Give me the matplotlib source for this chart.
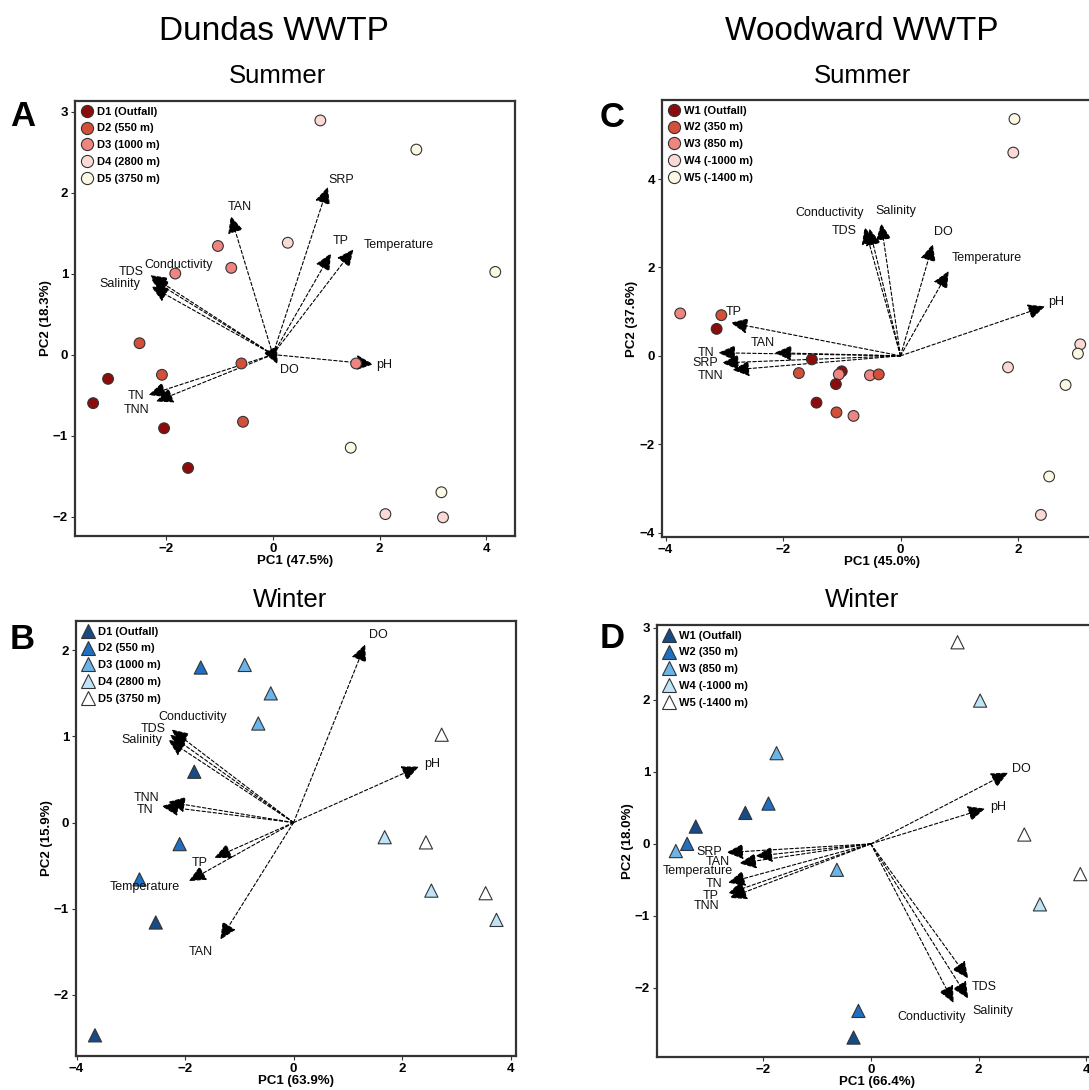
import matplotlib
matplotlib.use("Agg")
import matplotlib.pyplot as plt
from matplotlib.lines import Line2D

plt.rcParams['font.family'] = ['Liberation Sans', 'DejaVu Sans']

# ---------------- data ----------------
# Panel A: Dundas summer
A_site = ['D4', 'D5', 'D4', 'D5', 'D3', 'D3', 'D3', 'D2', 'D1', 'D1',
          'D2', 'D2', 'D3', 'D2', 'D1', 'D1', 'D5', 'D5', 'D4', 'D4']
A_pc1 = [0.89, 2.69, 0.28, 4.17, -1.03, -0.78, -1.83, -2.50, -3.09, -3.37,
         -2.08, -0.59, 1.56, -0.56, -2.04, -1.59, 1.46, 3.16, 2.11, 3.19]
A_pc2 = [2.89, 2.53, 1.38, 1.02, 1.34, 1.07, 1.00, 0.14, -0.30, -0.60,
         -0.25, -0.11, -0.11, -0.83, -0.91, -1.40, -1.15, -1.70, -1.97, -2.01]
A_vars = ['SRP', 'TAN', 'TP', 'Temperature', 'Conductivity', 'TDS', 'Salinity',
          'pH', 'DO', 'TN', 'TNN']
A_load1 = [1.03, -0.79, 1.09, 1.51, -2.30, -2.28, -2.28, 1.88, 0.09, -2.33, -2.19]
A_load2 = [2.07, 1.71, 1.25, 1.30, 0.98, 0.93, 0.84, -0.12, -0.12, -0.50, -0.58]

# Panel B: Dundas winter
B_site = ['D2', 'D3', 'D3', 'D3', 'D5', 'D1', 'D2', 'D2', 'D1', 'D1',
          'D4', 'D5', 'D4', 'D5', 'D4']
B_pc1 = [-1.71, -0.90, -0.42, -0.65, 2.73, -1.83, -2.10, -2.84, -2.54, -3.66,
         1.68, 2.44, 2.54, 3.54, 3.74]
B_pc2 = [1.80, 1.83, 1.50, 1.15, 1.02, 0.59, -0.25, -0.66, -1.16, -2.47,
         -0.17, -0.23, -0.79, -0.82, -1.13]
B_vars = ['DO', 'pH', 'Conductivity', 'TDS', 'Salinity', 'TNN', 'TN', 'TP',
          'Temperature', 'TAN']
B_load1 = [1.32, 2.31, -2.25, -2.28, -2.31, -2.31, -2.43, -1.46, -1.93, -1.35]
B_load2 = [2.07, 0.65, 1.08, 1.02, 0.96, 0.24, 0.19, -0.41, -0.68, -1.36]

# Panel C: Woodward summer
C_site = ['W5', 'W4', 'W3', 'W2', 'W1', 'W1', 'W2', 'W1', 'W3', 'W1', 'W3',
          'W2', 'W1', 'W2', 'W3', 'W4', 'W4', 'W5', 'W5', 'W5', 'W4']
C_pc1 = [1.94, 1.92, -3.75, -3.05, -3.13, -1.51, -1.73, -1.00, -1.05, -1.10,
         -0.52, -0.37, -1.43, -1.09, -0.80, 1.83, 3.06, 3.02, 2.81, 2.53, 2.39]
C_pc2 = [5.36, 4.60, 0.96, 0.92, 0.61, -0.08, -0.39, -0.35, -0.42, -0.64,
         -0.44, -0.42, -1.06, -1.28, -1.36, -0.26, 0.26, 0.05, -0.66, -2.73, -3.60]
C_vars = ['Conductivity', 'TDS', 'Salinity', 'DO', 'Temperature', 'pH', 'TP',
          'TAN', 'TN', 'SRP', 'TNN']
C_load1 = [-0.61, -0.53, -0.33, 0.55, 0.82, 2.46, -2.89, -2.14, -3.10, -3.04, -2.86]
C_load2 = [2.91, 2.88, 3.00, 2.53, 1.92, 1.12, 0.75, 0.07, 0.07, -0.16, -0.32]

# Panel D: Woodward winter
D_site = ['W5', 'W4', 'W3', 'W2', 'W1', 'W1', 'W2', 'W3', 'W3', 'W5', 'W5',
          'W4', 'W2', 'W1']
D_pc1 = [1.61, 2.03, -1.75, -1.90, -2.33, -3.25, -3.41, -3.62, -0.63, 2.85,
         3.89, 3.14, -0.23, -0.32]
D_pc2 = [2.80, 1.99, 1.26, 0.56, 0.43, 0.24, 0.00, -0.10, -0.36, 0.13,
         -0.42, -0.84, -2.32, -2.69]
D_vars = ['DO', 'pH', 'SRP', 'TAN', 'Temperature', 'TN', 'TP', 'TNN', 'TDS',
          'Salinity', 'Conductivity']
D_load1 = [2.55, 2.12, -2.68, -2.44, -2.14, -2.65, -2.65, -2.62, 1.81, 1.81, 1.54]
D_load2 = [0.99, 0.49, -0.12, -0.27, -0.17, -0.54, -0.69, -0.75, -1.87, -2.15, -2.21]

D_sites = ['D1', 'D2', 'D3', 'D4', 'D5']
D_site_labels = ['D1 (Outfall)', 'D2 (550 m)', 'D3 (1000 m)', 'D4 (2800 m)', 'D5 (3750 m)']
W_sites = ['W1', 'W2', 'W3', 'W4', 'W5']
W_site_labels = ['W1 (Outfall)', 'W2 (350 m)', 'W3 (850 m)', 'W4 (-1000 m)', 'W5 (-1400 m)']

# ---------------- style ----------------
reds = ['#8c0c0c', '#d2503a', '#ee8580', '#fbdad6', '#fdf8e4']
blues = ['#184b86', '#1f6fc2', '#6cb4e8', '#bfe4f7', '#ffffff']

# label offsets (pixels) from arrow tip: dx, dy
A_off = {'SRP': (13, 7), 'TAN': (9, 9), 'TP': (10, 12), 'Temperature': (45, 4),
         'Conductivity': (28, 10), 'TDS': (-20, 7), 'Salinity': (-31, 3),
         'pH': (11, -1), 'DO': (12, -6), 'TN': (-13, -1), 'TNN': (-20, -8)}
B_off = {'DO': (13, 9), 'pH': (13, 3), 'Conductivity': (21, 13), 'TDS': (-17, 6),
         'Salinity': (-26, 0), 'TNN': (-22, 4), 'TN': (-17, -4), 'TP': (-15, -5),
         'Temperature': (-44, -6), 'TAN': (-20, -12)}
C_off = {'Conductivity': (-35, 14), 'TDS': (-25, -2), 'Salinity': (15, 12),
         'DO': (11, 12), 'Temperature': (38, 13), 'pH': (11, 4), 'TP': (3, 11),
         'TAN': (-12, 10), 'TN': (-12, 0), 'SRP': (-17, 0), 'TNN': (-22, -6)}
D_off = {'DO': (13, 4), 'pH': (13, 2), 'SRP': (-17, 1), 'TAN': (-22, 1),
         'Temperature': (-58, -15), 'TN': (-14, -1), 'TP': (-17, -2),
         'TNN': (-23, -8), 'TDS': (16, -8), 'Salinity': (25, -12),
         'Conductivity': (-22, -14)}

W, H = 1089, 1090
fig = plt.figure(figsize=(W / 100, H / 100), dpi=100)


def px_axes(left, top, right, bottom):
    return fig.add_axes([left / W, 1 - bottom / H, (right - left) / W, (bottom - top) / H])


def panel(ax, site, pc1, pc2, vars_, l1, l2, offs, sites, labels, colors, marker, msize,
          xlim, ylim, xticks, yticks, xlabel, ylabel):
    cmap = dict(zip(sites, colors))
    # arrows
    for v, a, b in zip(vars_, l1, l2):
        ax.annotate('', xy=(a, b), xytext=(0, 0),
                    arrowprops=dict(arrowstyle='-|>,head_length=1.05,head_width=0.48',
                                    color='black', lw=0.8, linestyle=(0, (3, 2)),
                                    shrinkA=0, shrinkB=0), zorder=2)
        dx, dy = offs[v]
        ax.annotate(v, xy=(a, b), xytext=(dx, dy), textcoords='offset pixels',
                    ha='center', va='center', fontsize=9, color='#111111', zorder=4)
    ax.scatter(pc1, pc2, c=[cmap[s] for s in site], marker=marker, s=msize,
               edgecolors='#333333', linewidths=0.8, zorder=3)
    ax.set_xlim(*xlim)
    ax.set_ylim(*ylim)
    ax.set_xticks(xticks)
    ax.set_yticks(yticks)
    for sp in ax.spines.values():
        sp.set_linewidth(1.6)
        sp.set_color('#333333')
    ax.tick_params(length=3, width=0.8, color='#333333', labelsize=9.5, pad=2)
    for t in ax.get_xticklabels() + ax.get_yticklabels():
        t.set_fontweight('bold')
    ax.set_xlabel(xlabel, fontsize=9.5, fontweight='bold', labelpad=0)
    ax.set_ylabel(ylabel, fontsize=9.5, fontweight='bold', labelpad=1)
    handles = [Line2D([], [], linestyle='none', marker=marker, markersize=msize ** 0.5 + 1,
                      markerfacecolor=c, markeredgecolor='#333333', markeredgewidth=0.8)
               for c in colors]
    ax.legend(handles, labels, loc='upper left', frameon=False, prop={'weight': 'bold', 'size': 8},
              handletextpad=0.3, labelspacing=0.62, borderaxespad=0.35, handlelength=1.2,
              borderpad=0.15)


axA = px_axes(75, 101, 515, 536)
panel(axA, A_site, A_pc1, A_pc2, A_vars, A_load1, A_load2, A_off, D_sites, D_site_labels,
      reds, 'o', 60, (-3.71, 4.54), (-2.24, 3.13), [-2, 0, 2, 4], [-2, -1, 0, 1, 2, 3],
      'PC1 (47.5%)', 'PC2 (18.3%)')

axC = px_axes(662, 100, 1102, 537)
panel(axC, C_site, C_pc1, C_pc2, C_vars, C_load1, C_load2, C_off, W_sites, W_site_labels,
      reds, 'o', 60, (-4.06, 3.43), (-4.10, 5.79), [-4, -2, 0, 2], [-4, -2, 0, 2, 4],
      'PC1 (45.0%)', 'PC2 (37.6%)')

axB = px_axes(76, 621, 516, 1056)
panel(axB, B_site, B_pc1, B_pc2, B_vars, B_load1, B_load2, B_off, D_sites, D_site_labels,
      blues, '^', 90, (-4.01, 4.10), (-2.71, 2.34), [-4, -2, 0, 2, 4], [-2, -1, 0, 1, 2],
      'PC1 (63.9%)', 'PC2 (15.9%)')

axD = px_axes(657, 625, 1097, 1057)
panel(axD, D_site, D_pc1, D_pc2, D_vars, D_load1, D_load2, D_off, W_sites, W_site_labels,
      blues, '^', 90, (-3.97, 4.20), (-2.96, 3.04), [-2, 0, 2, 4], [-2, -1, 0, 1, 2, 3],
      'PC1 (66.4%)', 'PC2 (18.0%)')

# titles
fig.text(274 / W, 1 - 40 / H, 'Dundas WWTP', fontsize=24, ha='center', va='baseline')
fig.text(862 / W, 1 - 40 / H, 'Woodward WWTP', fontsize=24, ha='center', va='baseline')
fig.text(277 / W, 1 - 83 / H, 'Summer', fontsize=18.5, ha='center', va='baseline')
fig.text(862 / W, 1 - 83 / H, 'Summer', fontsize=18.5, ha='center', va='baseline')
fig.text(290 / W, 1 - 607 / H, 'Winter', fontsize=18.5, ha='center', va='baseline')
fig.text(862 / W, 1 - 607 / H, 'Winter', fontsize=18.5, ha='center', va='baseline')

# panel letters
for letter, x, y in [('A', 10, 126), ('B', 10, 649), ('C', 600, 127), ('D', 600, 648)]:
    fig.text(x / W, 1 - y / H, letter, fontsize=25, fontweight='bold', ha='left', va='baseline')

fig.savefig('out.png', dpi=100)
